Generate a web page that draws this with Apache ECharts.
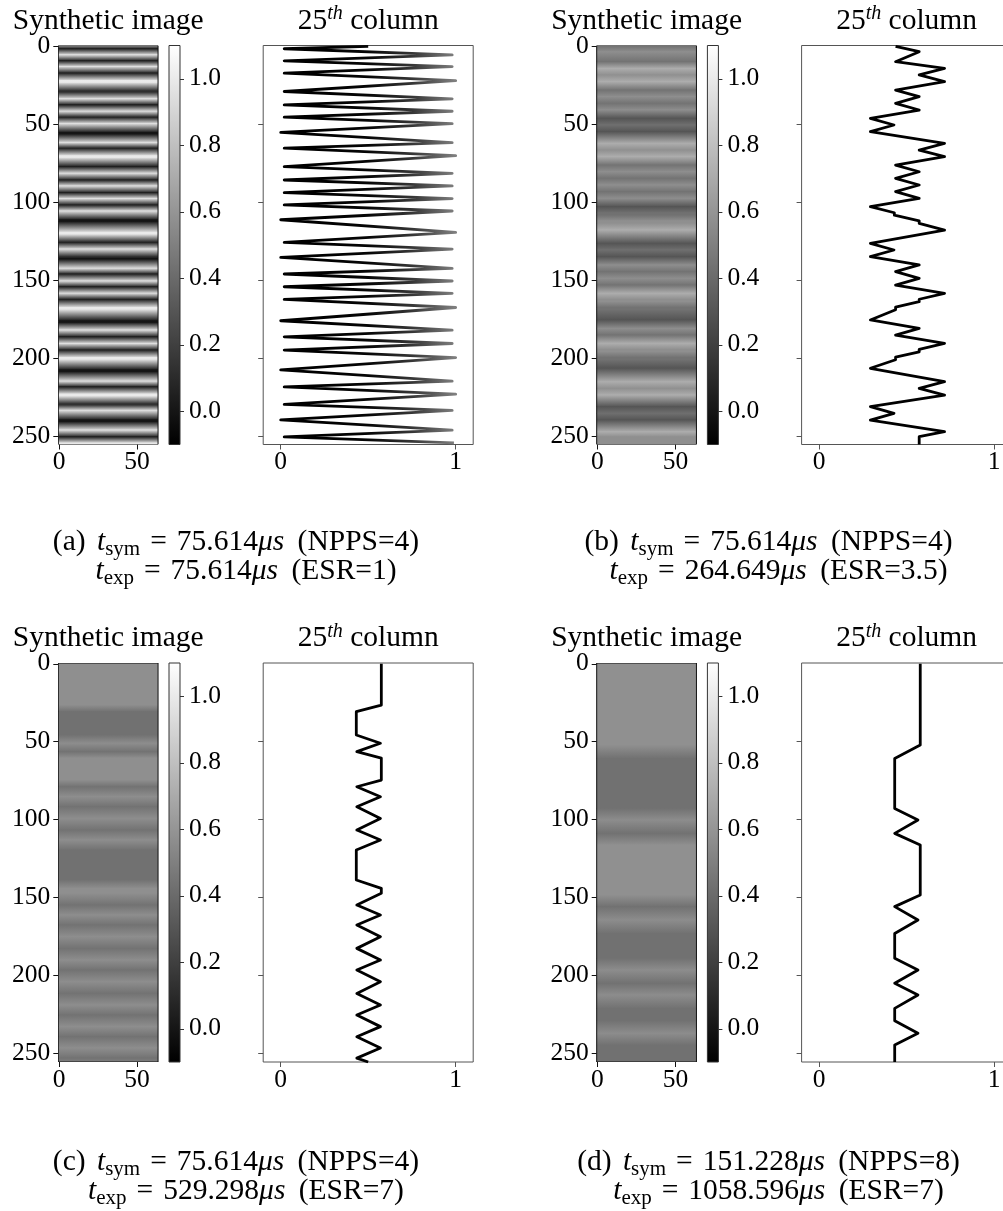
<!DOCTYPE html>
<html><head><meta charset="utf-8">
<script src="https://cdn.jsdelivr.net/npm/echarts@6/dist/echarts.min.js"></script>
<style>html,body{margin:0;padding:0;background:#fff}#c{width:1003px;height:1211px}</style>
</head><body><div id="c"></div>
<script>
// ---- data: 25th-column profile vertices (row index, value) ----
const rowsA = [0,1.6,5.5,9.3,13.0,17.2,22.0,23.2,29.0,33.7,37.6,41.7,45.5,49.6,55.2,56.4,61.8,65.4,70.2,71.4,77.2,81.5,85.8,89.6,93.9,97.7,101.8,105.7,111.3,112.5,119.4,120.6,125.8,130.1,135.5,136.7,142.5,146.1,150.6,154.3,158.5,162.4,167.6,168.8,176.1,177.3,182.1,186.4,190.7,194.9,199.7,200.9,207.6,208.8,214.9,218.5,223.2,224.4,229.8,233.6,239.7,240.9,246.3,250.6,254.5];
const valsA = [0.5,0.02,0.98,0.02,0.98,0.02,1.0,1.0,0.02,0.98,0.02,0.98,0.02,0.98,0.0,0.0,0.98,0.02,1.0,1.0,0.02,0.98,0.02,0.98,0.02,0.98,0.02,0.98,0.0,0.0,1.0,1.0,0.02,0.98,0.0,0.0,0.98,0.02,0.98,0.02,0.98,0.02,1.0,1.0,0.0,0.0,0.98,0.02,0.98,0.02,1.0,1.0,0.0,0.0,0.98,0.02,1.0,1.0,0.02,0.98,0.0,0.0,0.98,0.02,0.99];

const rowsB = [0,3.5,9.9,14.2,18.4,22.7,28.1,32.3,36.6,40.9,46.2,50.5,54.8,62.3,66.6,70.8,76.2,80.5,84.7,89.0,93.3,97.6,102.9,106.8,108.4,112.0,113.6,117.9,126.4,130.7,135.0,140.3,144.6,148.9,153.2,158.5,162.3,163.9,167.4,169.0,175.6,181.0,185.3,190.6,194.4,196.0,199.5,201.1,206.6,215.2,219.5,223.8,231.2,235.5,239.8,247.3,250.5,255.5];
const valsB = [0.437,0.572,0.437,0.717,0.572,0.717,0.437,0.572,0.437,0.572,0.293,0.428,0.293,0.717,0.572,0.717,0.437,0.572,0.437,0.572,0.437,0.572,0.293,0.43,0.43,0.572,0.572,0.717,0.293,0.428,0.293,0.572,0.437,0.572,0.437,0.717,0.572,0.572,0.437,0.437,0.293,0.572,0.437,0.717,0.572,0.572,0.437,0.437,0.293,0.717,0.572,0.717,0.293,0.428,0.293,0.717,0.572,0.572];

const rowsC = [0,26.5,30.7,45.7,51.0,56.4,60.5,74.6,78.9,85.3,91.7,99.2,106.7,113.1,119.5,138.7,144.1,147.3,154.8,161.2,167.6,175.1,182.6,190.1,196.5,204.0,211.5,218.9,225.4,232.8,239.3,246.5,253.0,255.5];
const valsC = [0.575,0.575,0.432,0.432,0.57,0.435,0.575,0.575,0.435,0.57,0.435,0.57,0.435,0.57,0.432,0.432,0.575,0.575,0.435,0.57,0.435,0.57,0.435,0.57,0.435,0.57,0.435,0.57,0.435,0.57,0.435,0.57,0.435,0.5];

const rowsD = [0,52.1,60.7,92.8,100.2,108.8,116.3,148.4,155.8,164.4,173.0,189.0,196.5,205.0,212.5,221.1,229.0,237.1,244.6,255.5];
const valsD = [0.578,0.578,0.432,0.432,0.565,0.432,0.578,0.578,0.432,0.565,0.432,0.432,0.565,0.432,0.565,0.432,0.432,0.565,0.432,0.432];

// ---- ticks / labels ----
const imageRowTicks = [0,50,100,150,200,250];
const imageColTicks = [0,50];
const colorbarTicks = [0,0.2,0.4,0.6,0.8,1.0];
const lineValueTicks = [0,1];
const lineRowTicks = [50,100,150,200,250];
const CMAP_MIN = -0.1, CMAP_MAX = 1.1;

// ---- caption texts ----
const captionLabels = ['(a)','(b)','(c)','(d)'];
const tsymValues = ['75.614','75.614','75.614','151.228'];
const nppsValues = ['4','4','4','8'];
const texpValues = ['75.614','264.649','529.298','1058.596'];
const esrValues = ['1','3.5','7','7'];

const FONT = 'Liberation Serif';
const TICK_FS = 25.5;

function grayOf(v){
  const t = Math.max(0, Math.min(1, (v - CMAP_MIN) / (CMAP_MAX - CMAP_MIN)));
  const g = Math.round(t * 255);
  return 'rgb(' + g + ',' + g + ',' + g + ')';
}
function imageRender(rows, vals){
  return function(params, api){
    const i = params.dataIndex, n = rows.length;
    const xl = -0.5, xr = 63.5;
    const kids = [];
    if (i === 0){
      const a = api.coord([xl, -0.5]), b = api.coord([xr, rows[0]]);
      kids.push({type:'rect', shape:{x:a[0], y:a[1], width:b[0]-a[0], height:b[1]-a[1]+0.5}, style:{fill:grayOf(vals[0])}});
    }
    if (i < n - 1){
      const a = api.coord([xl, rows[i]]), b = api.coord([xr, rows[i+1]]);
      kids.push({type:'rect', shape:{x:a[0], y:a[1]-0.3, width:b[0]-a[0], height:b[1]-a[1]+0.6},
        style:{fill:new echarts.graphic.LinearGradient(0,0,0,1,[{offset:0,color:grayOf(vals[i])},{offset:1,color:grayOf(vals[i+1])}])}});
    }
    if (i === n - 1){
      const a = api.coord([xl, rows[n-1]]), b = api.coord([xr, 255.5]);
      kids.push({type:'rect', shape:{x:a[0], y:a[1]-0.3, width:b[0]-a[0], height:b[1]-a[1]+0.3}, style:{fill:grayOf(vals[n-1])}});
      const f1 = api.coord([xl, -0.5]), f2 = api.coord([xr, 255.5]);
      kids.push({type:'rect', z2:10, shape:{x:f1[0], y:f1[1], width:f2[0]-f1[0], height:f2[1]-f1[1]}, style:{fill:'none', stroke:'#111', lineWidth:1}});
    }
    return {type:'group', children:kids};
  };
}
function colorbarRender(params, api){
  const a = api.coord([0, CMAP_MAX]), b = api.coord([1, CMAP_MIN]);
  const shape = {x:a[0], y:a[1], width:b[0]-a[0], height:b[1]-a[1]};
  return {type:'group', children:[
    {type:'rect', shape:shape, style:{fill:new echarts.graphic.LinearGradient(0,0,0,1,[{offset:0,color:grayOf(CMAP_MAX)},{offset:1,color:grayOf(CMAP_MIN)}])}},
    {type:'rect', shape:shape, z2:10, style:{fill:'none', stroke:'#333', lineWidth:1}}
  ]};
}
function lab(extra){ return Object.assign({fontFamily:FONT, fontSize:TICK_FS, color:'#000'}, extra); }

const panels = [
  {ox:0,     oy:0,     rows:rowsA, vals:valsA, capC:236,   capY:[542,571],   grad:true},
  {ox:538.4, oy:0,     rows:rowsB, vals:valsB, capC:768.5, capY:[542,571]},
  {ox:0,     oy:617.5, rows:rowsC, vals:valsC, capC:236,   capY:[1162,1191]},
  {ox:538.4, oy:617.5, rows:rowsD, vals:valsD, capC:768.5, capY:[1162,1191]}
];

const grid = [], xAxis = [], yAxis = [], series = [], visualMap = [], graphic = [];
const noLine = {show:false, onZero:false};
panels.forEach(function(p, k){
  const g0 = grid.length;
  grid.push({left:58.3+p.ox, top:45.5+p.oy, width:99.75, height:399, containLabel:false, outerBoundsMode:'none'});
  grid.push({left:169+p.ox, top:45.5+p.oy, width:11, height:399, containLabel:false, outerBoundsMode:'none'});
  grid.push({left:263.2+p.ox, top:45.5+p.oy, width:210, height:399, show:true, borderColor:'#555', borderWidth:1, backgroundColor:'transparent', containLabel:false, outerBoundsMode:'none'});

  // image axes
  xAxis.push({gridIndex:g0, type:'value', position:'bottom', min:-0.5, max:63.5, axisLine:noLine, splitLine:{show:false},
    axisTick:{show:true, length:5, customValues:imageColTicks, lineStyle:{color:'#111'}},
    axisLabel:lab({customValues:imageColTicks, margin:5})});
  yAxis.push({gridIndex:g0, type:'value', position:'left', inverse:true, min:-0.5, max:255.5, axisLine:noLine, splitLine:{show:false},
    axisTick:{show:true, length:5, customValues:imageRowTicks, lineStyle:{color:'#111'}},
    axisLabel:lab({customValues:imageRowTicks, margin:8})});
  // colorbar axes
  xAxis.push({gridIndex:g0+1, type:'value', min:0, max:1, show:false, axisLine:noLine, splitLine:{show:false}});
  yAxis.push({gridIndex:g0+1, type:'value', position:'right', min:CMAP_MIN, max:CMAP_MAX, axisLine:noLine, splitLine:{show:false},
    axisTick:{show:true, length:4, customValues:colorbarTicks, lineStyle:{color:'#333'}},
    axisLabel:lab({customValues:colorbarTicks, margin:9, formatter:function(v){return Number(v).toFixed(1);}})});
  // line plot axes
  xAxis.push({gridIndex:g0+2, type:'value', position:'bottom', min:-0.1, max:1.1, axisLine:noLine, splitLine:{show:false},
    axisTick:{show:true, length:5, customValues:lineValueTicks, lineStyle:{color:'#555'}},
    axisLabel:lab({customValues:lineValueTicks, margin:5})});
  yAxis.push({gridIndex:g0+2, type:'value', position:'left', inverse:true, min:-0.5, max:255.5, axisLine:noLine, splitLine:{show:false},
    axisTick:{show:true, length:5, customValues:lineRowTicks, lineStyle:{color:'#555'}},
    axisLabel:{show:false}});

  series.push({type:'custom', coordinateSystem:'cartesian2d', xAxisIndex:g0, yAxisIndex:g0,
    data:p.rows.map(function(r){return [0, r];}), renderItem:imageRender(p.rows, p.vals), silent:true, clip:true, animation:false});
  series.push({type:'custom', coordinateSystem:'cartesian2d', xAxisIndex:g0+1, yAxisIndex:g0+1,
    data:[[0.5,0.5]], renderItem:colorbarRender, silent:true, animation:false});
  const li = series.length;
  const ls = p.grad ? {width:2.8, join:'round'} : {width:2.8, color:'#000', join:'round'};
  series.push({type:'line', xAxisIndex:g0+2, yAxisIndex:g0+2,
    data:p.vals.map(function(v,i){return [v, p.rows[i]];}),
    symbol:'none', showSymbol:false, lineStyle:ls,
    silent:true, animation:false, z:3});
  if (p.grad){
    visualMap.push({type:'continuous', show:false, seriesIndex:li, dimension:0, min:0, max:1,
      inRange:{color:['#000000','#000000','#060606','#363636','#808080']}});
  }

  // titles
  graphic.push({type:'text', x:108.2+p.ox, y:21+p.oy, silent:true,
    style:{text:'Synthetic image', fontFamily:FONT, fontSize:29.5, fill:'#000', align:'center', verticalAlign:'middle', textAlign:'center', textVerticalAlign:'middle'}});
  graphic.push({type:'text', x:368.2+p.ox, y:21+p.oy, silent:true,
    style:{text:'{n|25}{s|th}{n| column}', fill:'#000', align:'center', verticalAlign:'middle', textAlign:'center', textVerticalAlign:'middle',
      rich:{n:{fontFamily:FONT, fontSize:29.5, lineHeight:34, fill:'#000'},
            s:{fontFamily:FONT, fontSize:20, fontStyle:'italic', lineHeight:28, verticalAlign:'top', fill:'#000'}}}});
  // captions
  const richCap = {
    n:{fontFamily:FONT, fontSize:29.5, lineHeight:36, fill:'#000'},
    l:{fontFamily:FONT, fontSize:29.5, lineHeight:36, padding:[0,4,0,0], fill:'#000'},
    i:{fontFamily:FONT, fontSize:29.5, fontStyle:'italic', lineHeight:36, fill:'#000'},
    b:{fontFamily:FONT, fontSize:21, lineHeight:20, verticalAlign:'bottom', fill:'#000'},
    e:{fontFamily:FONT, fontSize:29.5, lineHeight:36, padding:[0,10,0,10], fill:'#000'},
    u:{fontFamily:FONT, fontSize:29.5, fontStyle:'italic', lineHeight:36, padding:[0,6,0,0], fill:'#000'}
  };
  graphic.push({type:'text', x:p.capC, y:p.capY[0], silent:true,
    style:{text:'{l|' + captionLabels[k] + ' }{i|t}{b|sym}{e|=}{n|' + tsymValues[k] + '}{u|μs}{n| (NPPS=' + nppsValues[k] + ')}',
      fill:'#000', align:'center', verticalAlign:'middle', textAlign:'center', textVerticalAlign:'middle', rich:richCap}});
  graphic.push({type:'text', x:p.capC+10, y:p.capY[1], silent:true,
    style:{text:'{i|t}{b|exp}{e|=}{n|' + texpValues[k] + '}{u|μs}{n| (ESR=' + esrValues[k] + ')}',
      fill:'#000', align:'center', verticalAlign:'middle', textAlign:'center', textVerticalAlign:'middle', rich:richCap}});
});

const chart = echarts.init(document.getElementById('c'), null, {renderer:'canvas'});
chart.setOption({
  backgroundColor:'#ffffff',
  animation:false,
  grid:grid, xAxis:xAxis, yAxis:yAxis, series:series, visualMap:visualMap, graphic:graphic
});
</script>
</body></html>
